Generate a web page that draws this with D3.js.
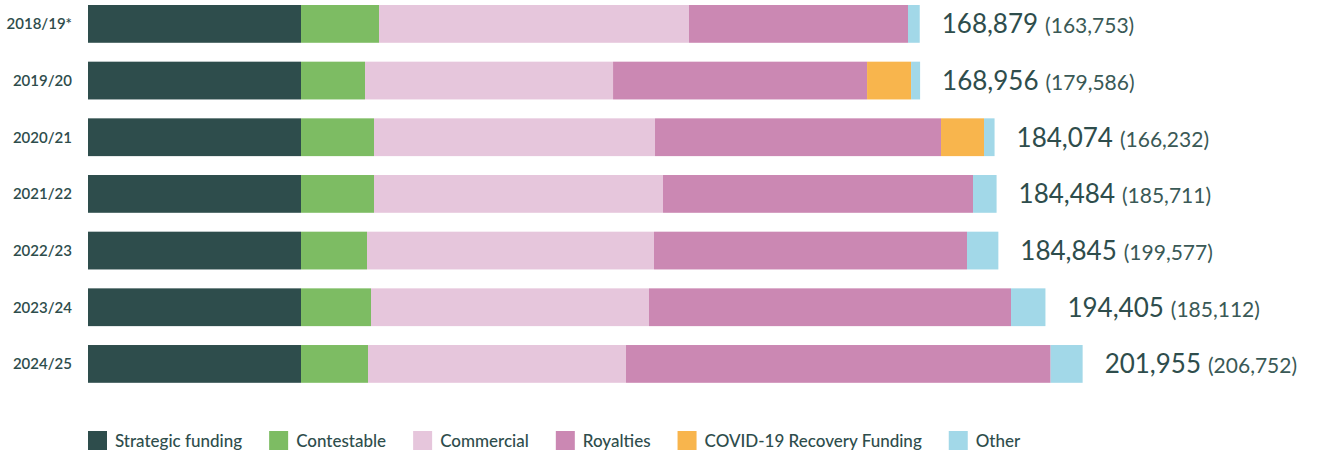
<!DOCTYPE html>
<html>
<head>
<meta charset="utf-8">
<script src="https://cdn.jsdelivr.net/npm/d3@7"></script>
<style>
  body { margin: 0; background: #fff; }
  svg { display: block; font-family: Lato, "Open Sans", sans-serif; }
</style>
</head>
<body>
<div id="chart"></div>
<script>
// years and funding streams
const years = ['2018/19*', '2019/20', '2020/21', '2021/22', '2022/23', '2023/24', '2024/25'];
const strategic   = [43250, 43250, 43250, 43250, 43250, 43250, 43250];
const contestable = [15838, 13000, 14823, 14823, 13401, 14213, 13604];
const commercial  = [62944, 50360, 57057, 58681, 58275, 56448, 52387];
const royalties   = [44467, 51575, 58072, 62946, 63555, 73504, 86216];
const covid       = [0, 8934, 8731, 0, 0, 0, 0];
const other       = [2380, 1837, 2141, 4784, 6364, 6990, 6498];
// label totals and previous-year figures in brackets
const totals   = [168879, 168956, 184074, 184484, 184845, 194405, 201955];
const previous = [163753, 179586, 166232, 185711, 199577, 185112, 206752];

const keys = ['Strategic funding', 'Contestable', 'Commercial', 'Royalties', 'COVID-19 Recovery Funding', 'Other'];
const colors = ['#2e4d4c', '#7dbc63', '#e6c6dc', '#cb88b3', '#f8b54d', '#a2d8e8'];
const series = [strategic, contestable, commercial, royalties, covid, other];

const width = 1322, height = 457;
const textColor = '#2e4d4c';

const rows = years.map((y, i) => {
  const r = { year: y, total: totals[i], prev: previous[i] };
  keys.forEach((k, j) => { r[k] = series[j][i]; });
  return r;
});

const svg = d3.select('#chart').append('svg')
  .attr('width', width)
  .attr('height', height);

// scales
const step = 56.67;
const x = d3.scaleLinear().domain([0, 200000]).range([88, 1073]);
const y = d3.scaleBand().domain(years).range([5 - step / 6, 5 - step / 6 + 7 * step])
  .paddingInner(1 / 3).paddingOuter(1 / 6);
const color = d3.scaleOrdinal().domain(keys).range(colors);

const stacked = d3.stack().keys(keys)(rows);

// bars
svg.append('g').selectAll('g')
  .data(stacked)
  .join('g')
  .attr('fill', d => color(d.key))
  .selectAll('rect')
  .data(d => d)
  .join('rect')
  .attr('x', d => x(d[0]))
  .attr('y', d => y(d.data.year))
  .attr('width', d => x(d[1]) - x(d[0]))
  .attr('height', y.bandwidth());

// year labels
svg.append('g').selectAll('text')
  .data(rows)
  .join('text')
  .attr('x', 72)
  .attr('y', d => y(d.year) + y.bandwidth() / 2 + 5.5)
  .attr('text-anchor', 'end')
  .attr('font-size', 15)
  .attr('font-weight', 600)
  .attr('fill', textColor)
  .text(d => d.year);

// totals at bar end
const fmt = d3.format(',');
const last = stacked[stacked.length - 1];
const labels = svg.append('g').selectAll('text')
  .data(rows)
  .join('text')
  .attr('x', (d, i) => x(last[i][1]) + 22)
  .attr('y', d => y(d.year) + y.bandwidth() / 2 + 9.5)
  .attr('fill', textColor);
labels.append('tspan')
  .attr('font-size', 26)
  .attr('font-weight', 400)
  .text(d => fmt(d.total));
labels.append('tspan')
  .attr('dx', 7)
  .attr('font-size', 21)
  .attr('font-weight', 400)
  .attr('fill', '#3a5956')
  .text(d => `(${fmt(d.prev)})`);

// legend
const legend = svg.append('g').attr('transform', 'translate(88, 431)');
let lx = 0;
keys.forEach((k) => {
  const item = legend.append('g').attr('transform', `translate(${lx}, 0)`);
  item.append('rect')
    .attr('width', 19)
    .attr('height', 19)
    .attr('fill', color(k));
  const t = item.append('text')
    .attr('x', 27)
    .attr('y', 15.5)
    .attr('font-size', 17)
    .attr('font-weight', 500)
    .attr('fill', textColor)
    .text(k);
  lx += 27 + t.node().getComputedTextLength() + 27;
});
</script>
</body>
</html>
